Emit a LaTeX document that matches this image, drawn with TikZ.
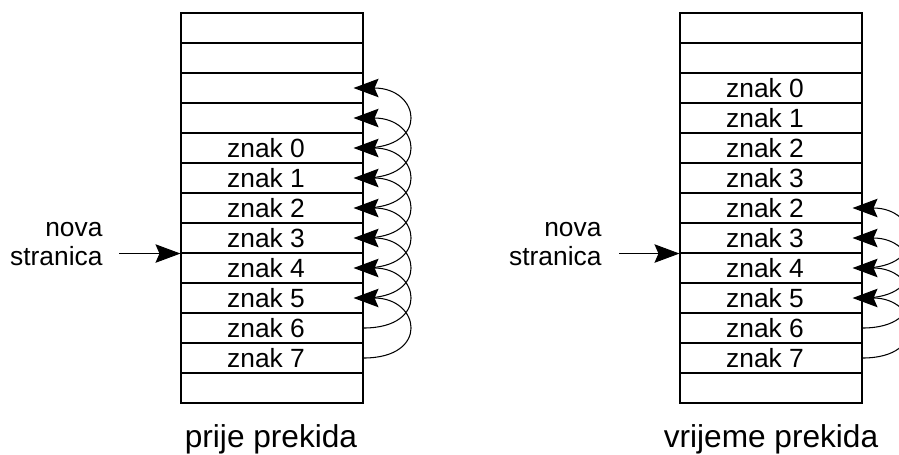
\documentclass[tikz,border=0pt]{standalone}
\usepackage{fontspec}
\setmainfont{Liberation Sans}
\usetikzlibrary{arrows.meta,positioning}

\begin{document}
\begin{tikzpicture}[line width=0.6pt,
    slot/.style={draw, minimum width=3.64cm, minimum height=0.6cm, inner sep=0pt,
      font=\fontsize{15}{16}\selectfont},
    tip/.style={-{Stealth[length=5mm,width=3.7mm,inset=0.8mm]}},
    jump/.style={tip, out=0, in=0, looseness=2.8},
    side/.style={align=right, anchor=east, inner sep=0pt, font=\fontsize{15}{16.6}\selectfont},
    caption/.style={anchor=base, font=\fontsize{18}{20}\selectfont}]
  \useasboundingbox (0,0) rectangle (17.98,-9.08);
  % stack before the interrupt
  \foreach \i/\t in {0/{},1/{},2/{},3/{},4/znak 0,5/znak 1,6/znak 2,7/znak 3,
      8/znak 4,9/znak 5,10/znak 6,11/znak 7,12/{}}
    \node[slot] (l\i) at (5.44,-0.56-0.6*\i) {\t\hspace*{0.24cm}};
  \foreach \i in {4,...,11} {
    \pgfmathtruncatemacro\j{\i-2}
    \draw[jump] (l\i.east) to ([xshift=-0.2cm]l\j.east);
  }
  \coordinate[left=1.22cm of l7.south west] (lin);
  \draw[tip] (lin) -- (l7.south west);
  \node[side] (lnew) at (2.06,-4.88) {nova\\stranica};
  \node[caption] (lcap) at (5.42,-8.94) {prije prekida};

  % stack during the interrupt
  \foreach \i/\t in {0/{},1/{},2/znak 0,3/znak 1,4/znak 2,5/znak 3,6/znak 2,7/znak 3,
      8/znak 4,9/znak 5,10/znak 6,11/znak 7,12/{}}
    \node[slot] (r\i) at (15.42,-0.56-0.6*\i) {\t\hspace*{0.24cm}};
  \foreach \i in {8,...,11} {
    \pgfmathtruncatemacro\j{\i-2}
    \draw[jump] (r\i.east) to ([xshift=-0.2cm]r\j.east);
  }
  \coordinate[left=1.2cm of r7.south west] (rin);
  \draw[tip] (rin) -- (r7.south west);
  \node[side] (rnew) at (12.04,-4.88) {nova\\stranica};
  \node[caption] (rcap) at (15.42,-8.94) {vrijeme prekida};
\end{tikzpicture}
\end{document}
